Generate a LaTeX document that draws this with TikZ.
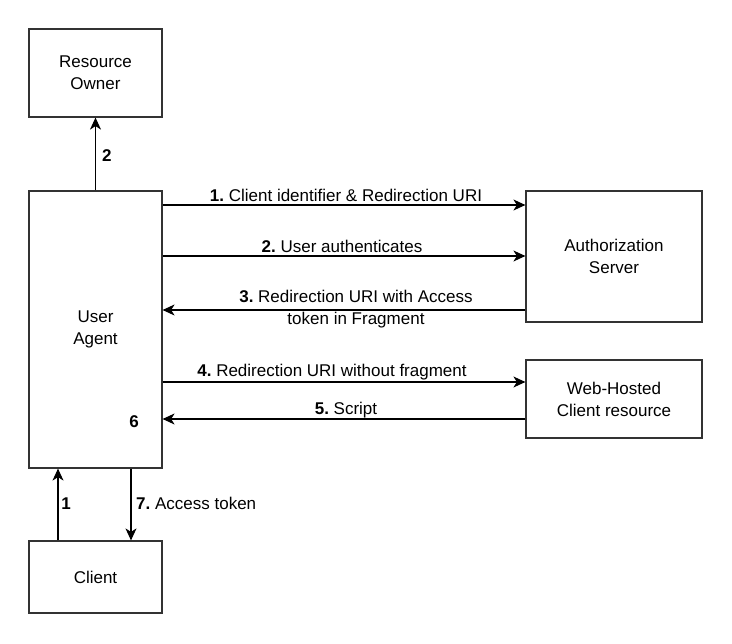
\documentclass[tikz,border=0pt]{standalone}
\usepackage{fontspec}
\setmainfont{Liberation Sans}
\usetikzlibrary{arrows.meta}
\frenchspacing

\begin{document}
\begin{tikzpicture}[x=1pt,y=-1pt,
    every node/.style={font=\fontsize{17}{22}\selectfont},
    box/.style={draw=black!80,line width=1.2pt,minimum width=133pt,align=center,inner sep=0pt},
    flow/.style={-{Stealth[length=12pt,width=11pt,inset=3.5pt]},line width=1.1pt},
    lbl/.style={align=center,inner sep=1pt}]
  \useasboundingbox (0,0) rectangle (732,644);
  % boxes
  \node[box,minimum height=88pt] (owner) at (95.5,73) {Resource\\Owner};
  \node[box,minimum height=277pt] (agent) at (95.5,329.5) {User\\Agent};
  \node[box,minimum width=176pt,minimum height=131pt] (authserver) at (614,256.5) {Authorization\\Server};
  \node[box,minimum width=176pt,minimum height=78pt] (webclient) at (614,399) {Web-Hosted\\Client resource};
  \node[box,minimum height=72pt] (client) at (95.5,577) {Client};

  % flows
  \draw[flow] (agent.north) -- (owner.south);
  \draw[flow] (agent.east |- 0,205) -- (authserver.west |- 0,205);
  \draw[flow] (agent.east |- 0,256) -- (authserver.west |- 0,256);
  \draw[flow] (authserver.west |- 0,310) -- (agent.east |- 0,310);
  \draw[flow] (agent.east |- 0,382) -- (webclient.west |- 0,382);
  \draw[flow] (webclient.west |- 0,419) -- (agent.east |- 0,419);
  \draw[flow] (client.north -| 58,0) -- (agent.south -| 58,0);
  \draw[flow] (agent.south -| 131,0) -- (client.north -| 131,0);

  % labels
  \node[lbl,anchor=west] (l-owner) at (101,156) {\textbf{2}};
  \node[lbl] (l-one) at (346,195) {\textbf{1.} Client identifier \& Redirection URI};
  \node[lbl] (l-two) at (342,246) {\textbf{2.} User authenticates};
  \node[lbl] (l-three) at (356,309) {\textbf{3.} Redirection URI with Access\\token in Fragment};
  \node[lbl] (l-four) at (332,372) {\textbf{4.} Redirection URI without fragment};
  \node[lbl] (l-five) at (346,410) {\textbf{5.} Script};
  \node[lbl] (l-six) at (134,422) {\textbf{6}};
  \node[lbl] (l-client) at (66,504) {\textbf{1}};
  \node[lbl,anchor=west] (l-seven) at (135,503) {\textbf{7.} Access token};
\end{tikzpicture}
\end{document}
